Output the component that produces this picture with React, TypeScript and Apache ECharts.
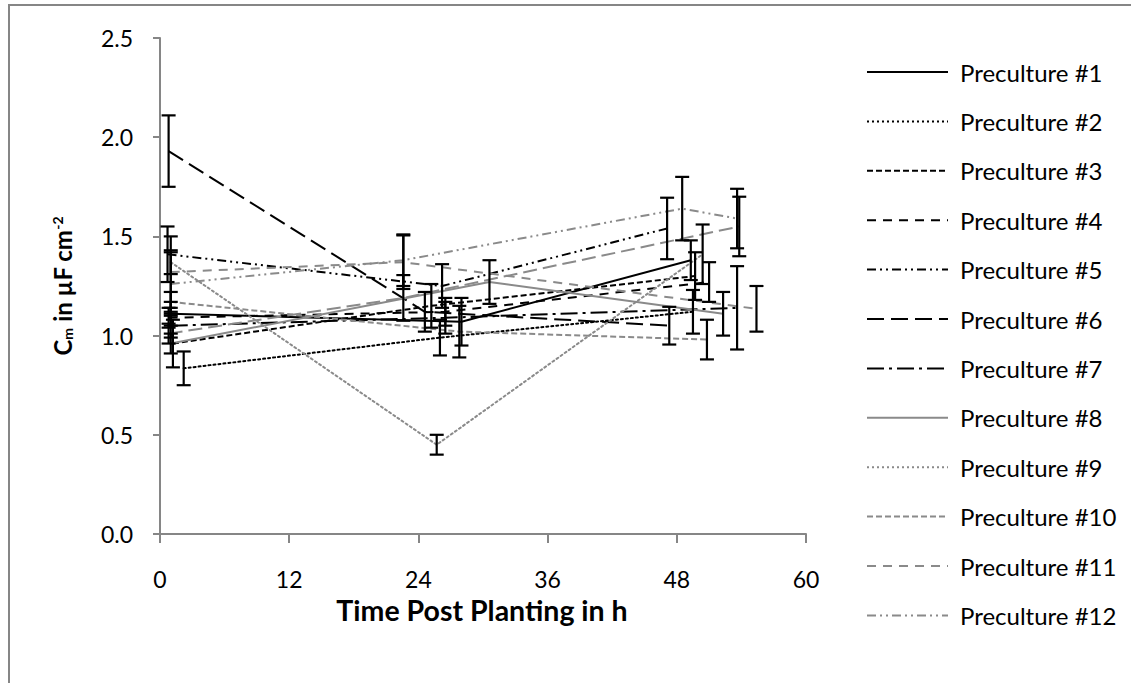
import React, { useEffect, useRef } from "react";
import * as echarts from "echarts";

// Time points (h), mean membrane capacitance and error for each preculture
const names = [
  "Preculture #1", "Preculture #2", "Preculture #3", "Preculture #4",
  "Preculture #5", "Preculture #6", "Preculture #7", "Preculture #8",
  "Preculture #9", "Preculture #10", "Preculture #11", "Preculture #12",
];

const t1 = [1, 28, 49.3];
const v1 = [1.11, 1.07, 1.38];
const e1 = [0.06, 0.12, 0.1];

const t2 = [2.2, 26, 49.5];
const v2 = [0.835, 0.99, 1.12];
const e2 = [0.085, 0.09, 0.11];

const t3 = [1.2, 25.2, 49.7];
const v3 = [0.96, 1.15, 1.3];
const e3 = [0.12, 0.11, 0.12];

const t4 = [0.8, 26.5, 51];
const v4 = [1.09, 1.12, 1.27];
const e4 = [0.05, 0.07, 0.1];

const t5 = [0.7, 26.2, 47.1];
const v5 = [1.41, 1.25, 1.54];
const e5 = [0.14, 0.11, 0.155];

const t6 = [0.8, 24.6, 47.3];
const v6 = [1.93, 1.12, 1.05];
const e6 = [0.18, 0.1, 0.095];

const t7 = [1, 26.5, 53.6];
const v7 = [1.05, 1.09, 1.14];
const e7 = [0.06, 0.08, 0.21];

const t8 = [1, 30.6, 52.3];
const v8 = [0.96, 1.27, 1.11];
const e8 = [0.05, 0.11, 0.11];

const t9 = [1, 25.7, 50.4];
const v9 = [1.37, 0.45, 1.41];
const e9 = [0.06, 0.05, 0.15];

const t10 = [1, 27.8, 50.8];
const v10 = [1.17, 1.02, 0.98];
const e10 = [0.05, 0.13, 0.1];

const t11 = [1, 22.6, 55.4];
const v11 = [1.32, 1.37, 1.135];
const e11 = [0.18, 0.135, 0.115];

const t12 = [1, 22.6, 48.5, 53.6];
const v12 = [1.26, 1.38, 1.64, 1.59];
const e12 = [0.16, 0.13, 0.16, 0.15];

// Additional grey long-dash run plotted without a legend entry
const tExtra = [0.8, 22.6, 53.8];
const vExtra = [1.01, 1.19, 1.55];
const eExtra = [0.05, 0.115, 0.15];

const times = [t1, t2, t3, t4, t5, t6, t7, t8, t9, t10, t11, t12, tExtra];
const values = [v1, v2, v3, v4, v5, v6, v7, v8, v9, v10, v11, v12, vExtra];
const errors = [e1, e2, e3, e4, e5, e6, e7, e8, e9, e10, e11, e12, eExtra];

const xTicks = [0, 12, 24, 36, 48, 60];
const yTicks = [0, 0.5, 1.0, 1.5, 2.0, 2.5];

const BLACK = "#000000";
const GREY = "#8a8a8a";
const AXIS = "#868686";

// Line colour and dash pattern per run
const lineColors = [BLACK, BLACK, BLACK, BLACK, BLACK, BLACK, BLACK, GREY, GREY, GREY, GREY, GREY, GREY];
const dashes: (number[] | null)[] = [
  null,
  [2, 3],
  [6, 3],
  [9, 7],
  [9, 4, 2, 4, 2, 4],
  [17, 7],
  [17, 5, 3, 5],
  null,
  [2, 3],
  [6, 3],
  [9, 7],
  [9, 4, 2, 4, 2, 4],
  [14, 6],
];

const GRID = { left: 160, top: 38, width: 646, height: 496 };
const FONT = "Lato, 'Open Sans', sans-serif";

export default function App() {
  const ref = useRef<HTMLDivElement>(null);

  useEffect(() => {
    document.body.style.margin = "0";
    const chart = echarts.init(ref.current!, undefined, { renderer: "svg" });

    const lineSeries = times.map((ts, i) => ({
      name: names[i] ?? "",
      type: "line",
      data: ts.map((t, j) => [t, values[i][j]]),
      showSymbol: false,
      symbol: "none",
      z: 2,
      lineStyle: {
        color: lineColors[i],
        width: 2,
        type: dashes[i] ?? "solid",
        cap: dashes[i] && dashes[i]![0] <= 2 ? "round" : "butt",
      },
    }));

    const errData: number[][] = [];
    times.forEach((ts, i) => {
      ts.forEach((t, j) => {
        errData.push([t, values[i][j] - errors[i][j], values[i][j] + errors[i][j]]);
      });
    });

    const errorSeries = {
      type: "custom",
      z: 3,
      data: errData,
      renderItem: (params: any, api: any) => {
        const x = api.value(0);
        const lo = api.coord([x, api.value(1)]);
        const hi = api.coord([x, api.value(2)]);
        const half = 7;
        const style = { stroke: BLACK, lineWidth: 2.2 };
        return {
          type: "group",
          children: [
            { type: "line", shape: { x1: lo[0], y1: lo[1], x2: hi[0], y2: hi[1] }, style },
            { type: "line", shape: { x1: lo[0] - half, y1: lo[1], x2: lo[0] + half, y2: lo[1] }, style },
            { type: "line", shape: { x1: hi[0] - half, y1: hi[1], x2: hi[0] + half, y2: hi[1] }, style },
          ],
        };
      },
    };

    // Legend drawn by hand so each sample shows its own dash pattern
    const legendItems: any[] = [];
    names.forEach((name, i) => {
      const y = 72 + i * 49.4;
      legendItems.push({
        type: "line",
        shape: { x1: 867, y1: y, x2: 948, y2: y },
        style: {
          stroke: lineColors[i],
          lineWidth: 2,
          lineDash: dashes[i] ?? undefined,
        },
      });
      legendItems.push({
        type: "text",
        x: 960,
        y,
        style: {
          text: name,
          font: `24px ${FONT}`,
          fill: "#000",
          verticalAlign: "middle",
          align: "left",
        },
      });
    });

    chart.setOption({
      animation: false,
      backgroundColor: "#ffffff",
      grid: GRID,
      xAxis: {
        type: "value",
        min: 0,
        max: 60,
        interval: 12,
        axisLine: { show: true, lineStyle: { color: AXIS, width: 2 } },
        axisTick: { show: true, inside: false, length: 9, lineStyle: { color: AXIS, width: 2 } },
        axisLabel: {
          margin: 33,
          fontSize: 23,
          fontFamily: FONT,
          color: "#000",
          formatter: (v: number) => (xTicks.includes(v) ? String(v) : ""),
        },
        splitLine: { show: false },
      },
      yAxis: {
        type: "value",
        min: 0,
        max: 2.5,
        interval: 0.5,
        axisLine: { show: true, lineStyle: { color: AXIS, width: 2 } },
        axisTick: { show: true, inside: false, length: 7, lineStyle: { color: AXIS, width: 2 } },
        axisLabel: {
          margin: 27,
          fontSize: 23,
          fontFamily: FONT,
          color: "#000",
          formatter: (v: number) => (yTicks.some((y) => Math.abs(y - v) < 1e-9) ? v.toFixed(1) : ""),
        },
        splitLine: { show: false },
      },
      series: [...lineSeries, errorSeries],
      graphic: [
        {
          type: "rect",
          shape: { x: 9, y: 5, width: 1200, height: 800 },
          style: { fill: "none", stroke: AXIS, lineWidth: 2 },
          silent: true,
          z: -10,
        },
        {
          type: "text",
          x: 482,
          y: 610,
          style: {
            text: "Time Post Planting in h",
            font: `bold 28.5px ${FONT}`,
            fill: "#000",
            align: "center",
            verticalAlign: "middle",
          },
        },
        {
          type: "text",
          x: 62,
          y: 286,
          rotation: Math.PI / 2,
          style: {
            text: "{b|C}{s|m}{b| in µF cm}{p|-2}",
            align: "center",
            verticalAlign: "middle",
            rich: {
              b: { font: `bold 24px ${FONT}`, fill: "#000", verticalAlign: "middle" },
              s: { font: `bold 14px ${FONT}`, fill: "#000", verticalAlign: "bottom" },
              p: { font: `bold 14px ${FONT}`, fill: "#000", verticalAlign: "top" },
            },
          },
        },
        ...legendItems,
      ],
    });

    return () => chart.dispose();
  }, []);

  return <div ref={ref} style={{ width: 1131, height: 683 }} />;
}
